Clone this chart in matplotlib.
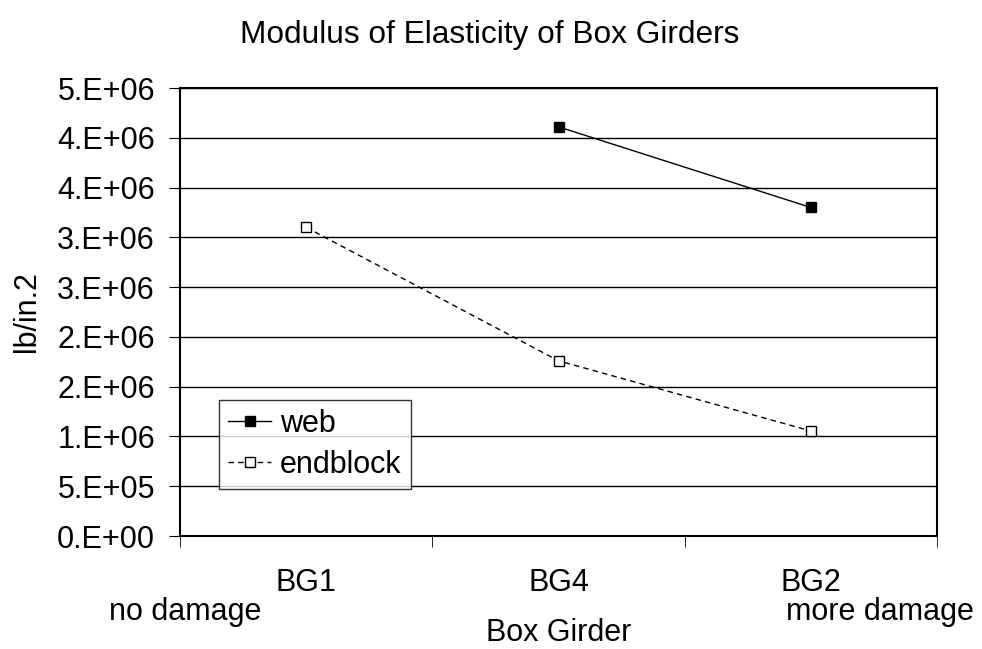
import matplotlib.pyplot as plt
import numpy as np

plt.rcParams["font.family"] = ["Liberation Sans", "DejaVu Sans"]

girders = ["BG1", "BG4", "BG2"]
web = [np.nan, 4.11e6, 3.30e6]
endblock = [3.10e6, 1.76e6, 1.055e6]
ytick_vals = np.arange(0, 4.5e6 + 1, 5e5)
ytick_labels = ["0.E+00", "5.E+05", "1.E+06", "2.E+06", "2.E+06",
                "3.E+06", "3.E+06", "4.E+06", "4.E+06", "5.E+06"]

FS = 22

fig = plt.figure(figsize=(9.82, 6.49), dpi=100)
ax = fig.add_axes([180 / 982, 1 - 536 / 649, 757 / 982, 448 / 649])

x = np.arange(len(girders))
ax.plot(x, web, color="black", linewidth=1, marker="s", markersize=6.5,
        markerfacecolor="black", markeredgecolor="black", label="web")
ax.plot(x, endblock, color="black", linewidth=1, linestyle=(0, (4, 3)), marker="s",
        markersize=6.5, markerfacecolor="white", markeredgecolor="black",
        label="endblock")

ax.set_ylim(0, 4.5e6)
ax.set_yticks(ytick_vals, ytick_labels, fontsize=FS)
ax.grid(axis="y", color="black", linewidth=1)
ax.set_axisbelow(True)

ax.set_xlim(-0.5, 2.5)
ax.set_xticks(x, girders, fontsize=FS)
ax.tick_params(axis="x", which="major", length=0, pad=23)
ax.set_xticks(np.arange(-0.5, 2.6, 1), minor=True)
ax.tick_params(axis="x", which="minor", length=8, direction="out", color="black")
ax.tick_params(axis="y", length=8, direction="out", color="black", pad=10)

for s in ax.spines.values():
    s.set_color("black")
    s.set_linewidth(1.5)

ax.set_ylabel("lb/in.2", fontsize=FS)
ax.yaxis.set_label_coords((42 - 180) / 757, 0.5)
ax.set_xlabel("Box Girder", fontsize=FS)
ax.xaxis.set_label_coords(0.5, -(618 - 536) / 448)
fig.text(185 / 982, 1 - 612 / 649, "no damage", fontsize=FS, ha="center", va="center")
fig.text(880 / 982, 1 - 612 / 649, "more damage", fontsize=FS, ha="center", va="center")
fig.text(490 / 982, 1 - 35 / 649, "Modulus of Elasticity of Box Girders",
         fontsize=22.8, ha="center", va="center")

leg = ax.legend(loc="upper left", bbox_to_anchor=((219 - 180) / 757, (536 - 400) / 448),
                fontsize=FS, frameon=True, fancybox=False, handlelength=1.4,
                handletextpad=0.3, borderpad=0.3, labelspacing=0.35, borderaxespad=0)
leg.get_frame().set_edgecolor("black")
leg.get_frame().set_linewidth(1)

fig.savefig("out.png", dpi=100)
